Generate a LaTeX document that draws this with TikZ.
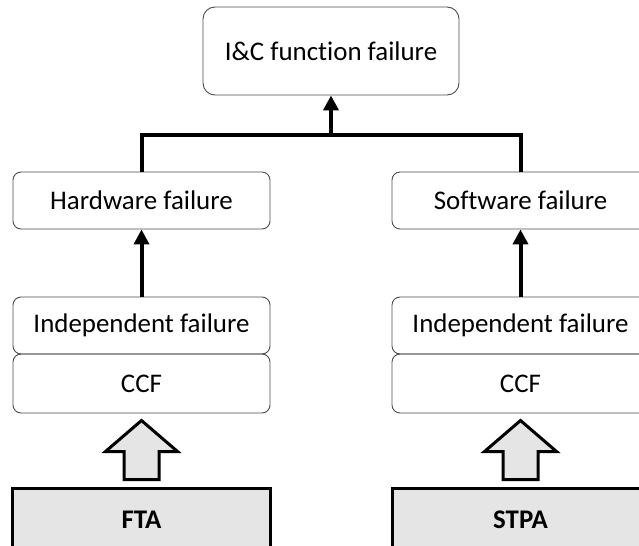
\documentclass[tikz,border=0pt]{standalone}
\usepackage{fontspec}
\setmainfont{Carlito}[Ligatures=NoCommon]
\usetikzlibrary{positioning, calc, arrows.meta}

\tikzset{
	box/.style={draw=black!70, line width=0.9bp, rounded corners=8bp, minimum width=257bp, minimum height=57bp, inner sep=0pt, font=\fontsize{27}{31}\selectfont},
	method/.style={draw, line width=3bp, fill=black!10, minimum width=257bp, minimum height=64bp, inner sep=0pt, font=\fontsize{27}{31}\selectfont\bfseries},
	link/.style={line width=4bp, -{Triangle[length=15bp, width=15bp]}},
	bigarrow/.style={draw, line width=3bp, fill=black!10, line join=miter}
}

\begin{document}
\begin{tikzpicture}[x=1bp, y=1bp, node distance=125bp, on grid]
			\useasboundingbox (0,0) rectangle (639,-546);
			\clip (0,0) rectangle (639,-546);

			\node[box, minimum height=88bp, minimum width=256bp, rounded corners=12bp] (top) at (331,-51) {I\&C function failure};
			\node[box] (hw) at (141.5,-200.5) {Hardware failure};
			\node[box, right=379bp of hw] (sw) {Software failure};
			\node[box, below=of hw] (indL) {Independent failure};
			\node[box, below=of sw] (indR) {Independent failure};
			\node[box, below=58bp of indL, minimum height=59bp] (ccfL) {CCF};
			\node[box, below=58bp of indR, minimum height=59bp] (ccfR) {CCF};
			\node[method, below=136.5bp of ccfL] (fta) {FTA};
			\node[method, below=136.5bp of ccfR] (stpa) {STPA};

			\coordinate (bar) at ($(top.south)+(0,-40)$);
			\draw[line width=4bp] (hw.north) |- (bar) -| (sw.north);
			\draw[link] (bar) -- (top);
			\draw[link] (indL) -- (hw);
			\draw[link] (indR) -- (sw);

			\foreach \m in {fta, stpa}
				\draw[bigarrow] ($(\m.north)+(-17.5,7)$) -- ++(0,28) -- ++(-18.5,0)
					-- ($(\m.north)+(0,66)$) -- ++(36,-31) -- ++(-18.5,0) -- ++(0,-28) -- cycle;

		\end{tikzpicture}
\end{document}
